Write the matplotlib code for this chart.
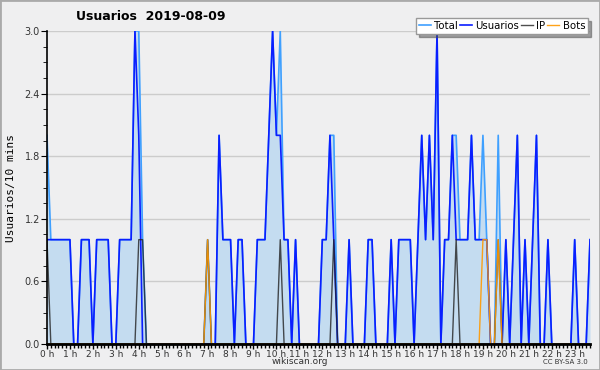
import matplotlib
matplotlib.use("Agg")
import matplotlib.pyplot as plt
from matplotlib.patches import Rectangle
from matplotlib.ticker import MultipleLocator

# one value per 10 minutes, 00:00 .. 23:40
usuarios = [1, 1, 1, 1, 1, 1, 1, 0, 0, 1, 1, 1, 0, 1, 1, 1, 1, 0, 0, 1,
            1, 1, 1, 3, 2, 0, 0, 0, 0, 0, 0, 0, 0, 0, 0, 0, 0, 0, 0, 0,
            0, 0, 0, 0, 0, 2, 1, 1, 1, 0, 1, 1, 0, 0, 0, 1, 1, 1, 2, 3,
            2, 2, 1, 1, 0, 1, 0, 0, 0, 0, 0, 0, 1, 1, 2, 1, 0, 0, 0, 1,
            0, 0, 0, 0, 1, 1, 0, 0, 0, 0, 1, 0, 1, 1, 1, 1, 0, 1, 2, 1,
            2, 1, 3, 0, 1, 1, 2, 1, 1, 1, 1, 2, 1, 1, 1, 1, 0, 0, 0, 0,
            1, 0, 1, 2, 0, 1, 0, 1, 2, 0, 0, 1, 0, 0, 0, 0, 0, 0, 1, 0,
            0, 0, 1]
ip = [0] * 143
bots = [0] * 143
total = list(usuarios)

ip_slots = [0, 24, 25, 42, 61, 75, 107, 118]
bot_slots = [42, 114, 115, 118]
total_fix = {0: 2, 24: 3, 25: 1, 42: 1, 61: 3, 75: 2, 107: 2, 114: 2, 115: 1, 118: 2}

for s in ip_slots:
    ip[s] = 1
for s in bot_slots:
    bots[s] = 1
for s, v in total_fix.items():
    total[s] = v

hours = ["%d h" % h for h in range(24)]
x = list(range(len(usuarios)))

bg = "#efeff0"
fig = plt.figure(figsize=(6, 3.7), dpi=100, facecolor=bg)
ax = fig.add_axes([47 / 600, 26 / 370, 543 / 600, 313 / 370])
ax.set_facecolor(bg)

ax.fill_between(x, total, 0, color="#c4dcf0", lw=0)
ax.plot(x, total, c="#3fa0ff", lw=1.2, label="Total")
ax.plot(x, usuarios, c="#0a1eff", lw=1.2, label="Usuarios")
ax.plot(x, ip, c="#222222", lw=1.0, alpha=0.8, label="IP")
ax.plot(x, bots, c="#ff9900", lw=1.0, alpha=0.9, label="Bots")

ax.set_xlim(0, len(usuarios) - 1)
ax.set_ylim(0, 3.0)
ax.set_yticks([0.0, 0.6, 1.2, 1.8, 2.4, 3.0])
ax.yaxis.set_minor_locator(MultipleLocator(0.15))
ax.set_xticks(range(0, 144, 6))
ax.set_xticklabels(hours)
ax.xaxis.set_minor_locator(MultipleLocator(1))
ax.grid(axis="y", color="#cccccc", lw=1)
ax.set_axisbelow(True)

for side in ["top", "right"]:
    ax.spines[side].set_visible(False)
ax.spines["left"].set_linewidth(1.2)
ax.spines["bottom"].set_linewidth(2)
ax.tick_params(axis="y", labelsize=7, colors="#333333", pad=1)
ax.tick_params(axis="x", labelsize=6.5, colors="#333333", pad=0.5)
ax.tick_params(axis="x", which="major", length=3.5, width=1, color="black")
ax.tick_params(axis="x", which="minor", length=3, width=1, color="black")
ax.tick_params(axis="y", which="major", length=4, color="black")
ax.tick_params(axis="y", which="minor", length=3, color="black")

ax.set_ylabel("Usuarios/10 mins", family="DejaVu Sans Mono", fontsize=8, labelpad=6)

leg = ax.legend(ncol=4, loc="upper right", bbox_to_anchor=(1.006, 1.058), fontsize=7.3,
                handlelength=1.2, handletextpad=0.3, columnspacing=0.2,
                fancybox=False, shadow=True, framealpha=1, borderpad=0.3)
leg.get_frame().set_edgecolor("#999999")

fig.text(151 / 600, 1 - 17 / 370, "Usuarios  2019-08-09", ha="center", va="center",
         fontsize=9, fontweight="bold")
fig.text(300 / 600, 1 - 362 / 370, "wikiscan.org", ha="center", va="center",
         fontsize=6.5, color="#333333")
fig.text(588 / 600, 1 - 362 / 370, "CC BY-SA 3.0", ha="right", va="center",
         fontsize=5, color="#333333")
fig.patches.append(Rectangle((0, 0), 1, 1, transform=fig.transFigure, fill=False,
                             edgecolor="#aaaaaa", lw=2))

fig.savefig("out.png", dpi=100, facecolor=bg)
